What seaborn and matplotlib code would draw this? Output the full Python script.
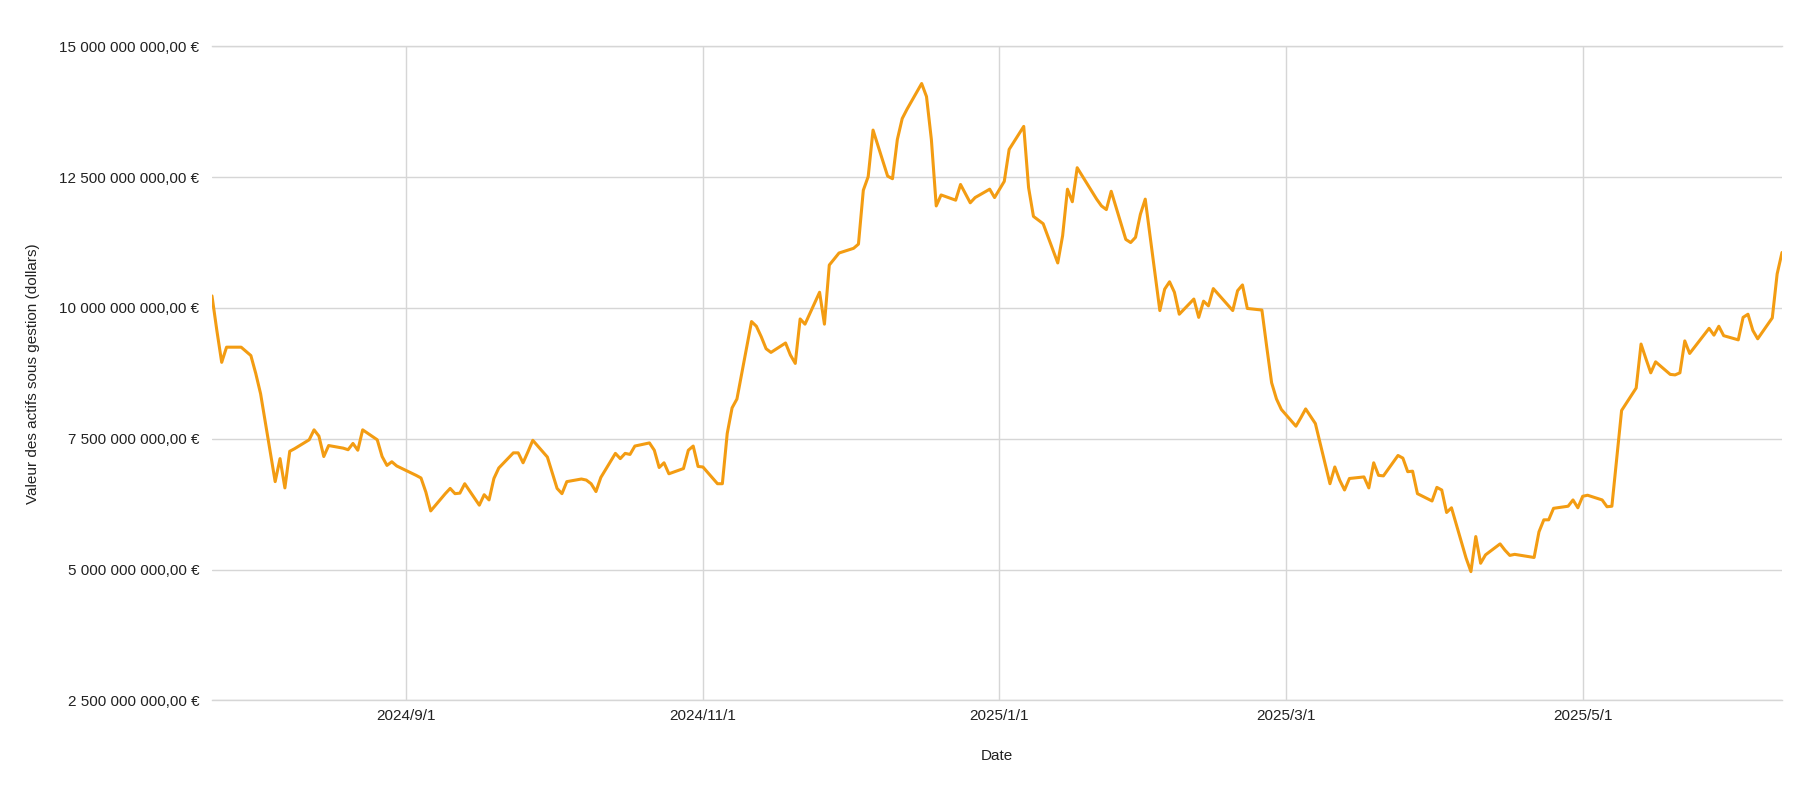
import pandas as pd
import numpy as np
import matplotlib
matplotlib.use('Agg')
import matplotlib.pyplot as plt
import matplotlib.dates as mdates
from matplotlib.ticker import FuncFormatter
import seaborn as sns

# trading days and AUM values in billions
dates = [
    '2024-07-23', '2024-07-24', '2024-07-25', '2024-07-26', '2024-07-29', '2024-07-30', '2024-07-31',
    '2024-08-01', '2024-08-02', '2024-08-05', '2024-08-06', '2024-08-07', '2024-08-08', '2024-08-09',
    '2024-08-12', '2024-08-13', '2024-08-14', '2024-08-15', '2024-08-16', '2024-08-19', '2024-08-20',
    '2024-08-21', '2024-08-22', '2024-08-23', '2024-08-26', '2024-08-27', '2024-08-28', '2024-08-29',
    '2024-08-30',
    '2024-09-03', '2024-09-04', '2024-09-05', '2024-09-06', '2024-09-09', '2024-09-10', '2024-09-11',
    '2024-09-12', '2024-09-13', '2024-09-16', '2024-09-17', '2024-09-18', '2024-09-19', '2024-09-20',
    '2024-09-23', '2024-09-24', '2024-09-25', '2024-09-26', '2024-09-27', '2024-09-30',
    '2024-10-01', '2024-10-02', '2024-10-03', '2024-10-04', '2024-10-07', '2024-10-08', '2024-10-09',
    '2024-10-10', '2024-10-11', '2024-10-14', '2024-10-15', '2024-10-16', '2024-10-17', '2024-10-18',
    '2024-10-21', '2024-10-22', '2024-10-23', '2024-10-24', '2024-10-25', '2024-10-28', '2024-10-29',
    '2024-10-30', '2024-10-31',
    '2024-11-01', '2024-11-04', '2024-11-05', '2024-11-06', '2024-11-07', '2024-11-08', '2024-11-11',
    '2024-11-12', '2024-11-13', '2024-11-14', '2024-11-15', '2024-11-18', '2024-11-19', '2024-11-20',
    '2024-11-21', '2024-11-22', '2024-11-25', '2024-11-26', '2024-11-27', '2024-11-29',
    '2024-12-02', '2024-12-03', '2024-12-04', '2024-12-05', '2024-12-06', '2024-12-09', '2024-12-10',
    '2024-12-11', '2024-12-12', '2024-12-13', '2024-12-16', '2024-12-17', '2024-12-18', '2024-12-19',
    '2024-12-20', '2024-12-23', '2024-12-24', '2024-12-26', '2024-12-27', '2024-12-30', '2024-12-31',
    '2025-01-02', '2025-01-03', '2025-01-06', '2025-01-07', '2025-01-08', '2025-01-10', '2025-01-13',
    '2025-01-14', '2025-01-15', '2025-01-16', '2025-01-17', '2025-01-21', '2025-01-22', '2025-01-23',
    '2025-01-24', '2025-01-27', '2025-01-28', '2025-01-29', '2025-01-30', '2025-01-31',
    '2025-02-03', '2025-02-04', '2025-02-05', '2025-02-06', '2025-02-07', '2025-02-10', '2025-02-11',
    '2025-02-12', '2025-02-13', '2025-02-14', '2025-02-18', '2025-02-19', '2025-02-20', '2025-02-21',
    '2025-02-24', '2025-02-25', '2025-02-26', '2025-02-27', '2025-02-28',
    '2025-03-03', '2025-03-04', '2025-03-05', '2025-03-06', '2025-03-07', '2025-03-10', '2025-03-11',
    '2025-03-12', '2025-03-13', '2025-03-14', '2025-03-17', '2025-03-18', '2025-03-19', '2025-03-20',
    '2025-03-21', '2025-03-24', '2025-03-25', '2025-03-26', '2025-03-27', '2025-03-28', '2025-03-31',
    '2025-04-01', '2025-04-02', '2025-04-03', '2025-04-04', '2025-04-07', '2025-04-08', '2025-04-09',
    '2025-04-10', '2025-04-11', '2025-04-14', '2025-04-15', '2025-04-16', '2025-04-17', '2025-04-21',
    '2025-04-22', '2025-04-23', '2025-04-24', '2025-04-25', '2025-04-28', '2025-04-29', '2025-04-30',
    '2025-05-01', '2025-05-02', '2025-05-05', '2025-05-06', '2025-05-07', '2025-05-08', '2025-05-09',
    '2025-05-12', '2025-05-13', '2025-05-14', '2025-05-15', '2025-05-16', '2025-05-19', '2025-05-20',
    '2025-05-21', '2025-05-22', '2025-05-23', '2025-05-27', '2025-05-28', '2025-05-29', '2025-05-30',
    '2025-06-02', '2025-06-03', '2025-06-04', '2025-06-05', '2025-06-06', '2025-06-09', '2025-06-10',
    '2025-06-11',
]

aum_bn = [
    10.23, 9.57, 8.96, 9.25, 9.25, 9.17, 9.09,
    8.75, 8.36, 6.68, 7.12, 6.56, 7.26, 7.31,
    7.48, 7.67, 7.55, 7.16, 7.37, 7.32, 7.29,
    7.41, 7.28, 7.67, 7.48, 7.16, 6.99, 7.06,
    6.98,
    6.80, 6.75, 6.48, 6.12, 6.45, 6.55, 6.45,
    6.46, 6.64, 6.23, 6.43, 6.33, 6.74, 6.94,
    7.23, 7.23, 7.04, 7.25, 7.47, 7.15,
    6.85, 6.55, 6.45, 6.68, 6.73, 6.71, 6.64,
    6.49, 6.76, 7.22, 7.12, 7.22, 7.20, 7.36,
    7.42, 7.28, 6.95, 7.04, 6.83, 6.93, 7.28,
    7.36, 6.97,
    6.96, 6.64, 6.64, 7.60, 8.09, 8.26, 9.74,
    9.65, 9.45, 9.22, 9.15, 9.33, 9.10, 8.94,
    9.79, 9.69, 10.30, 9.69, 10.82, 11.05,
    11.14, 11.22, 12.25, 12.51, 13.40, 12.52, 12.47,
    13.22, 13.62, 13.80, 14.29, 14.04, 13.22, 11.95,
    12.16, 12.06, 12.36, 12.01, 12.11, 12.27, 12.11,
    12.42, 13.03, 13.47, 12.30, 11.75, 11.61, 10.86,
    11.38, 12.27, 12.03, 12.68, 12.08, 11.95, 11.88,
    12.23, 11.31, 11.25, 11.35, 11.79, 12.08,
    9.95, 10.36, 10.50, 10.30, 9.88, 10.17, 9.82,
    10.13, 10.04, 10.37, 9.95, 10.33, 10.44, 9.99,
    9.96, 9.25, 8.57, 8.26, 8.06,
    7.74, 7.90, 8.07, 7.93, 7.79, 6.64, 6.96,
    6.71, 6.52, 6.74, 6.77, 6.56, 7.04, 6.80,
    6.79, 7.18, 7.13, 6.87, 6.88, 6.45, 6.31,
    6.57, 6.52, 6.09, 6.18, 5.22, 4.96, 5.63,
    5.12, 5.28, 5.49, 5.37, 5.27, 5.29, 5.23,
    5.72, 5.95, 5.95, 6.17, 6.21, 6.33, 6.18,
    6.40, 6.42, 6.33, 6.20, 6.21, 7.12, 8.04,
    8.47, 9.31, 9.03, 8.76, 8.97, 8.73, 8.72,
    8.76, 9.37, 9.13, 9.61, 9.48, 9.65, 9.47,
    9.39, 9.82, 9.88, 9.57, 9.41, 9.81, 10.65,
    11.06,
]

tick_dates = ['2024-09-01', '2024-11-01', '2025-01-01', '2025-03-01', '2025-05-01']
y_ticks = [2.5e9, 5e9, 7.5e9, 10e9, 12.5e9, 15e9]

df = pd.DataFrame({'date': pd.to_datetime(dates), 'aum': np.array(aum_bn) * 1e9})

sns.set_style('white')
plt.rcParams['font.family'] = ['Liberation Sans', 'DejaVu Sans']

fig = plt.figure(figsize=(18.18, 7.94), dpi=100)
ax = fig.add_axes([0.1166, 0.118, 0.8636, 0.8236])

sns.lineplot(data=df, x='date', y='aum', ax=ax, color='#F39C12', linewidth=2.2, zorder=3)

ax.set_xlim(df['date'].min(), df['date'].max())
ax.set_ylim(2.5e9, 15e9)
ax.set_yticks(y_ticks)
ax.set_xticks(pd.to_datetime(tick_dates))


def euro_fmt(v, pos):
    s = f"{v:,.2f}".replace(',', ' ').replace('.', ',')
    return s + ' €'


ax.yaxis.set_major_formatter(FuncFormatter(euro_fmt))
ax.xaxis.set_major_formatter(FuncFormatter(
    lambda v, pos: f"{mdates.num2date(v).year}/{mdates.num2date(v).month}/{mdates.num2date(v).day}"))

grid_col = '#d6d6d6'
ax.grid(True, color=grid_col, linewidth=1.0)
for side in ['left', 'right']:
    ax.spines[side].set_visible(False)
for side in ['top', 'bottom']:
    ax.spines[side].set_color(grid_col)
    ax.spines[side].set_linewidth(1.0)
ax.tick_params(axis='both', length=0, labelsize=11, colors='#222222')
ax.tick_params(axis='y', pad=9)
ax.tick_params(axis='x', pad=6)

ax.set_xlabel('Date', fontsize=11, color='#222222', labelpad=19)
ax.set_ylabel('Valeur des actifs sous gestion (dollars)', fontsize=11, color='#222222', labelpad=14)

plt.savefig('out.png', dpi=100)
plt.close()
